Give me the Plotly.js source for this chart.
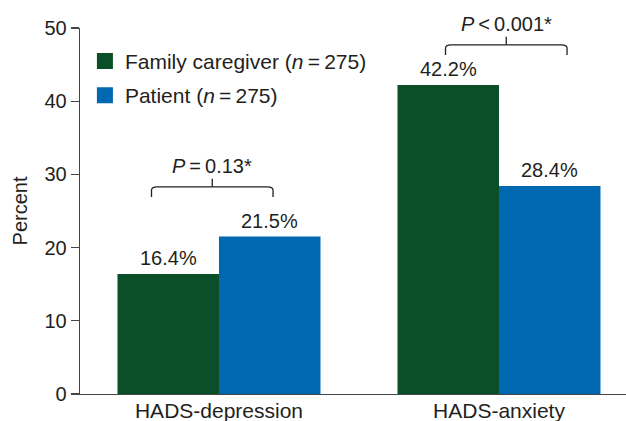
<!DOCTYPE html>
<html>
<head>
<meta charset="utf-8">
<script src="https://cdn.plot.ly/plotly-3.0.1.min.js"></script>
<style>html,body{margin:0;padding:0;background:#fff}#chart{width:626px;height:421px}</style>
</head>
<body>
<div id="chart"></div>
<script>
const categories = ['HADS-depression', 'HADS-anxiety'];
const seriesNames = ['Family caregiver (<i>n</i>\u2009=\u2009275)', 'Patient (<i>n</i>\u2009=\u2009275)'];
const caregiverValues = [16.4, 42.2];
const patientValues = [21.5, 28.4];
const pLabels = ['<i>P</i>\u2009=\u20090.13*', '<i>P</i>\u2009<\u20090.001*'];
const yTicks = [0, 10, 20, 30, 40, 50];

const GREEN = '#0a4f27';
const BLUE = '#0067b1';
const TXT = '#231f20';
const FONT = 'Liberation Sans, Arial, sans-serif';

const xIdx = categories.map((_, i) => i);
const barW = 0.3625;
const colors = [GREEN, BLUE];

const traces = [
  {type: 'bar', name: seriesNames[0], x: xIdx, y: caregiverValues, marker: {color: GREEN, line: {width: 0}}, showlegend: false, hoverinfo: 'none'},
  {type: 'bar', name: seriesNames[1], x: xIdx, y: patientValues, marker: {color: BLUE, line: {width: 0}}, showlegend: false, hoverinfo: 'none'}
];
// legend entries with larger square keys
seriesNames.forEach((n, s) => {
  traces.push({type: 'scatter', mode: 'markers', name: n, x: [null], y: [null], marker: {symbol: 'square', size: 16, color: colors[s], line: {width: 0}}, legendgroup: 'g' + s, hoverinfo: 'none'});
});

const annotations = [];
[caregiverValues, patientValues].forEach((vals, s) => {
  vals.forEach((v, i) => {
    annotations.push({x: i + (s === 0 ? -barW / 2 : barW / 2), y: v, xref: 'x', yref: 'y', text: v.toFixed(1) + '%', showarrow: false, yanchor: 'bottom', yshift: 3, font: {family: FONT, size: 20, color: TXT}});
  });
});

// brackets for significance
const shapes = [];
categories.forEach((c, i) => {
  const top = Math.max(caregiverValues[i], patientValues[i]);
  const shift = i === 0 ? -0.025 : 0.025;
  const x0 = i - 0.216 + shift, x1 = i + 0.218 + shift, xc = (x0 + x1) / 2;
  const yTop = top + 6.8 - (i === 0 ? 0 : 1.3);
  const yEnd = yTop - 1.4, yC = yTop - 0.45, dx = 0.02;
  shapes.push({type: 'path', xref: 'x', yref: 'y', line: {color: TXT, width: 1.3},
    path: `M${x0},${yEnd} L${x0},${yC} Q${x0},${yTop} ${x0 + dx},${yTop} L${x1 - dx},${yTop} Q${x1},${yTop} ${x1},${yC} L${x1},${yEnd}`});
  shapes.push({type: 'line', xref: 'x', yref: 'y', x0: xc, x1: xc, y0: yTop, y1: yTop + 1.1, line: {color: TXT, width: 1.3}});
  annotations.push({x: xc, y: yTop + 1.1, xref: 'x', yref: 'y', text: pLabels[i], showarrow: false, yanchor: 'bottom', yshift: 0, font: {family: FONT, size: 20, color: TXT}});
});

const layout = {
  width: 626, height: 421,
  margin: {l: 80, r: 0, t: 28, b: 27},
  paper_bgcolor: '#fff', plot_bgcolor: '#fff',
  font: {family: FONT, size: 20, color: TXT},
  barmode: 'group', bargap: 0.275, bargroupgap: 0,
  showlegend: true,
  legend: {x: 0.009, y: 0.965, xanchor: 'left', yanchor: 'top', bgcolor: 'rgba(0,0,0,0)', font: {family: FONT, size: 21, color: TXT}, tracegroupgap: 4, itemwidth: 30},
  xaxis: {range: [-0.4964, 1.4536], tickvals: xIdx, ticktext: categories, showgrid: false, zeroline: false, showline: true, linecolor: '#444', linewidth: 1.3, ticks: '', ticklabelstandoff: -3, tickfont: {family: FONT, size: 21, color: TXT}, fixedrange: true},
  yaxis: {range: [0, 50], tickvals: yTicks, showgrid: false, zeroline: false, showline: true, linecolor: '#444', linewidth: 1.3, ticks: 'outside', ticklen: 8, tickwidth: 1.3, tickcolor: '#444', tickfont: {family: FONT, size: 20, color: TXT}, title: {text: 'Percent', font: {family: FONT, size: 20, color: TXT}, standoff: 11}, fixedrange: true},
  shapes: shapes,
  annotations: annotations
};

Plotly.newPlot('chart', traces, layout, {displayModeBar: false, staticPlot: true});
</script>
</body>
</html>
